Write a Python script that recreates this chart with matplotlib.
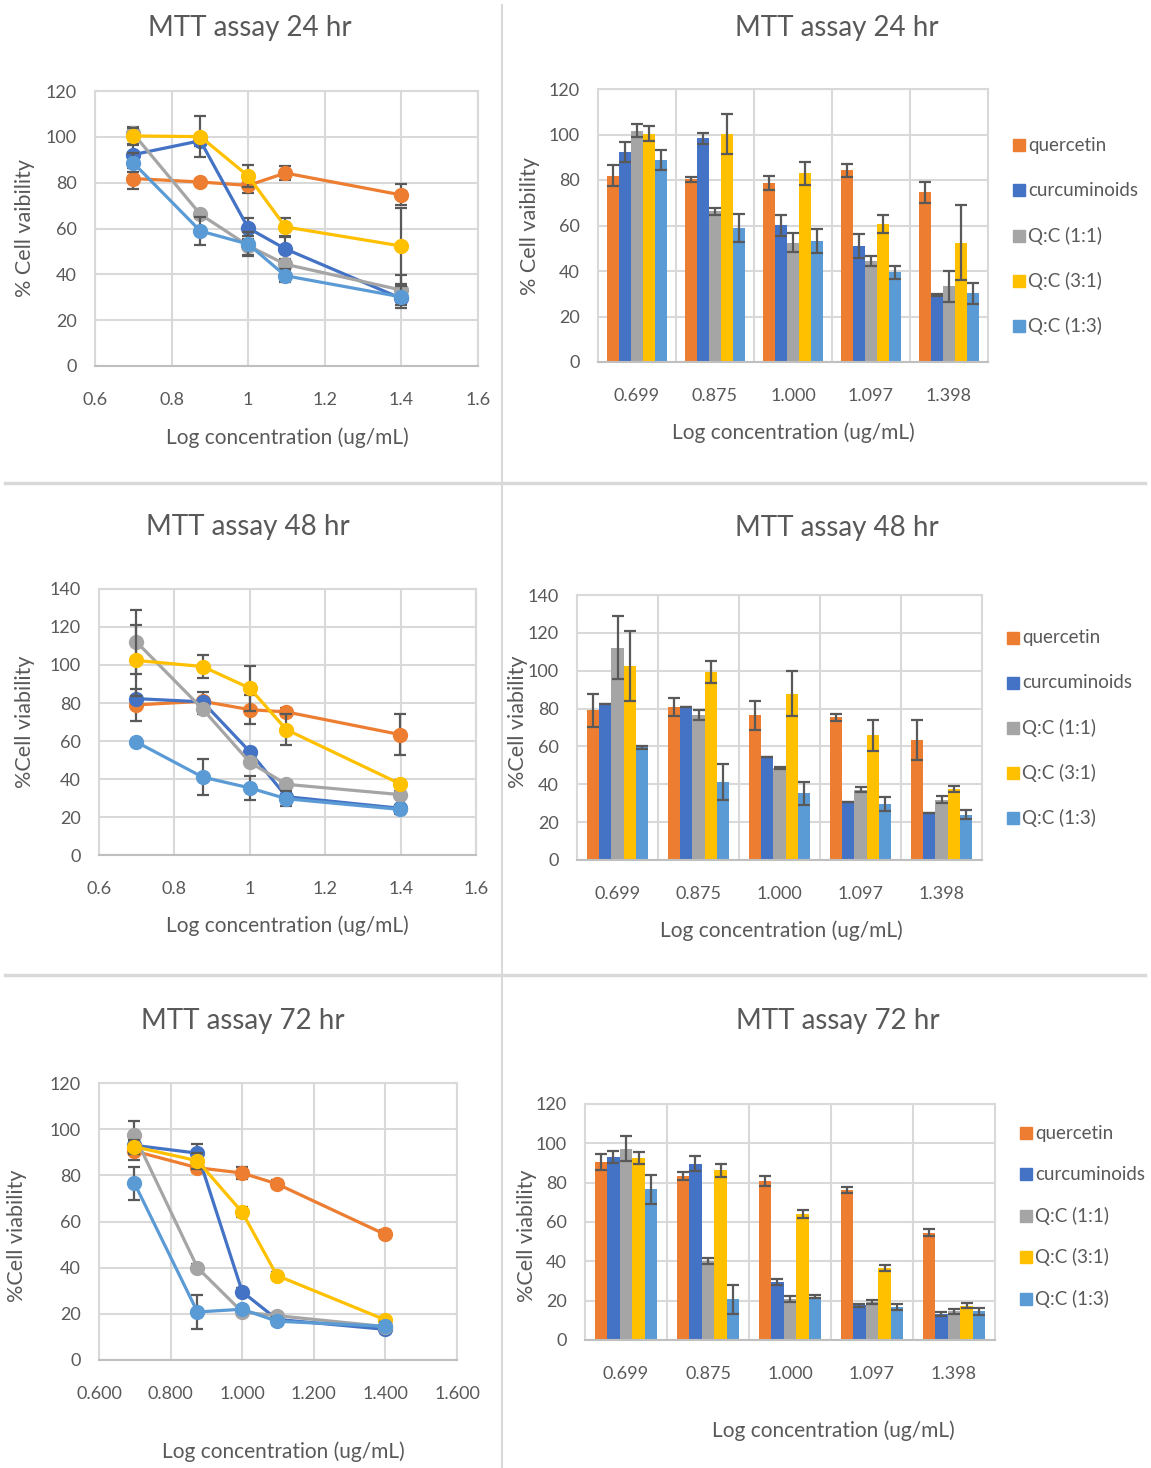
import numpy as np
import matplotlib
matplotlib.use('Agg')
import matplotlib.pyplot as plt
from matplotlib.lines import Line2D

plt.rcParams['font.family'] = ['Lato', 'DejaVu Sans']

W, H = 1151, 1468

series = ['quercetin', 'curcuminoids', 'Q:C (1:1)', 'Q:C (3:1)', 'Q:C (1:3)']
colors = ['#ED7D31', '#4472C4', '#A5A5A5', '#FFC000', '#5B9BD5']
log_conc = [0.699, 0.875, 1.000, 1.097, 1.398]
conc_labels = ['0.699', '0.875', '1.000', '1.097', '1.398']

# 24 hr
v24 = [[81.8, 80.3, 78.8, 84.2, 74.7],
       [92.2, 98.3, 60.2, 51.1, 29.6],
       [101.6, 66.2, 52.5, 44.4, 33.2],
       [100.4, 100.1, 82.9, 60.7, 52.4],
       [88.8, 58.9, 53.2, 39.4, 30.2]]
e24 = [[4.6, 1.0, 3.1, 3.0, 4.6],
       [4.4, 2.5, 4.6, 5.3, 0.5],
       [2.8, 1.5, 4.2, 2.3, 6.7],
       [3.4, 8.8, 4.9, 4.0, 16.4],
       [4.2, 6.2, 5.3, 2.9, 4.7]]

# 48 hr
v48 = [[79.0, 80.9, 76.5, 75.3, 63.4],
       [82.3, 80.6, 54.4, 30.7, 24.6],
       [112.2, 76.8, 48.8, 37.2, 31.8],
       [102.4, 99.2, 87.8, 66.0, 37.5],
       [59.5, 41.0, 35.3, 29.6, 24.0]]
e48 = [[8.6, 4.9, 7.6, 1.9, 10.6],
       [0.0, 0.0, 0.0, 0.0, 0.0],
       [16.8, 2.6, 0.5, 1.2, 1.9],
       [18.5, 5.9, 11.8, 8.2, 1.8],
       [0.8, 9.5, 6.1, 3.9, 2.5]]

# 72 hr
v72 = [[90.5, 83.3, 81.0, 76.3, 54.5],
       [93.0, 89.6, 29.6, 17.6, 13.3],
       [97.3, 40.0, 20.8, 19.2, 14.5],
       [92.4, 86.3, 64.0, 36.6, 17.5],
       [76.6, 20.8, 22.0, 16.8, 14.6]]
e72 = [[4.0, 1.9, 2.5, 1.7, 1.7],
       [3.1, 3.8, 1.4, 0.9, 1.0],
       [6.4, 1.6, 1.4, 1.1, 1.4],
       [3.1, 3.4, 2.1, 1.7, 1.1],
       [7.2, 7.4, 0.7, 1.7, 1.7]]

TXT = '#595959'
GRID = '#D9D9D9'
ERR = '#595959'
XL = 15   # axis label size
YL = 15.5


def add_ax(fig, left, top, right, bottom):
    return fig.add_axes([left / W, 1 - bottom / H, (right - left) / W, (bottom - top) / H])


def ftext(fig, x, y, s, **kw):
    fig.text(x / W, 1 - y / H, s, ha=kw.pop('ha', 'center'), va=kw.pop('va', 'center'),
             color=TXT, **kw)


def style_ax(ax):
    ax.set_axisbelow(True)
    ax.grid(True, color=GRID, linewidth=1.5)
    for s in ax.spines.values():
        s.set_color(GRID)
        s.set_linewidth(1.5)
    ax.spines['bottom'].set_color('#BFBFBF')
    ax.tick_params(length=0, labelsize=13, colors=TXT)
    ax.tick_params(axis='y', pad=13)
    ax.tick_params(axis='x', pad=19)


def line_panel(fig, box, vals, errs, ymax, xfmt):
    ax = add_ax(fig, *box)
    style_ax(ax)
    for j in range(len(series)):
        ax.errorbar(log_conc, vals[j], yerr=errs[j], color=colors[j], lw=2.3,
                    marker='o', ms=10, ecolor=ERR, elinewidth=1.6, capsize=4,
                    capthick=1.6, zorder=3 + j)
    ticks = np.arange(0.6, 1.61, 0.2)
    ax.set_xlim(0.6, 1.6)
    ax.set_ylim(0, ymax)
    ax.set_xticks(ticks)
    ax.set_xticklabels([xfmt(t) for t in ticks])
    ax.set_yticks(np.arange(0, ymax + 1, 20))
    return ax


def bar_panel(fig, box, vals, errs, ymax, legend_ys):
    ax = add_ax(fig, *box)
    style_ax(ax)
    ax.grid(False, axis='x')
    x = np.arange(len(log_conc))
    w = 0.153
    for j in range(len(series)):
        ax.bar(x + (j - 2) * w, vals[j], w, color=colors[j], zorder=2,
               yerr=errs[j], error_kw=dict(ecolor=ERR, elinewidth=1.6, capsize=4,
                                           capthick=1.6, zorder=3))
    for b in np.arange(0.5, len(log_conc) - 1, 1):
        ax.axvline(b, color=GRID, lw=1.5, zorder=0)
    ax.set_xlim(-0.5, len(log_conc) - 0.5)
    ax.set_ylim(0, ymax)
    ax.set_xticks(x)
    ax.set_xticklabels(conc_labels)
    ax.set_yticks(np.arange(0, ymax + 1, 20))
    # legend outside the plot area, square swatches like the original
    for j, ly in enumerate(legend_ys):
        fig.patches.append(plt.Rectangle(((box[2] + 25) / W, 1 - (ly + 6) / H), 12 / W, 12 / H,
                                         color=colors[j], transform=fig.transFigure, figure=fig))
        ftext(fig, box[2] + 40, ly, series[j], ha='left', fontsize=13.5)
    return ax


fig = plt.figure(figsize=(W / 100, H / 100), dpi=100)

# separators
fig.add_artist(Line2D([502 / W, 502 / W], [0, 1 - 5 / H], color=GRID, lw=1.5))
fig.add_artist(Line2D([5 / W, 1145 / W], [1 - 483 / H, 1 - 483 / H], color=GRID, lw=2.5))
fig.add_artist(Line2D([5 / W, 1145 / W], [1 - 975 / H, 1 - 975 / H], color=GRID, lw=2.5))

one = lambda t: ('%g' % round(t, 1))
three = lambda t: '%.3f' % t

# 24 hr
line_panel(fig, (95, 91, 478, 366), v24, e24, 120, one)
ftext(fig, 250, 28, 'MTT assay 24 hr', fontsize=20)
ftext(fig, 25, 228, '% Cell vaibility', rotation=90, fontsize=YL)
ftext(fig, 287, 438, 'Log concentration (ug/mL)', fontsize=XL)

bar_panel(fig, (598, 89, 988, 362), v24, e24, 120, [145, 190, 236, 281, 326])
ftext(fig, 837, 28, 'MTT assay 24 hr', fontsize=20)
ftext(fig, 530, 226, '% Cell vaibility', rotation=90, fontsize=YL)
ftext(fig, 793, 433, 'Log concentration (ug/mL)', fontsize=XL)

# 48 hr
line_panel(fig, (99, 589, 476, 855), v48, e48, 140, one)
ftext(fig, 248, 527, 'MTT assay 48 hr', fontsize=20)
ftext(fig, 25, 722, '%Cell viability', rotation=90, fontsize=YL)
ftext(fig, 287, 926, 'Log concentration (ug/mL)', fontsize=XL)

bar_panel(fig, (577, 595, 982, 860), v48, e48, 140, [638, 683, 728, 773, 818])
ftext(fig, 837, 528, 'MTT assay 48 hr', fontsize=20)
ftext(fig, 518, 722, '%Cell viability', rotation=90, fontsize=YL)
ftext(fig, 781, 931, 'Log concentration (ug/mL)', fontsize=XL)

# 72 hr
line_panel(fig, (99, 1083, 457, 1360), v72, e72, 120, three)
ftext(fig, 243, 1021, 'MTT assay 72 hr', fontsize=20)
ftext(fig, 17, 1236, '%Cell viability', rotation=90, fontsize=YL)
ftext(fig, 283, 1452, 'Log concentration (ug/mL)', fontsize=XL)

bar_panel(fig, (585, 1104, 995, 1340), v72, e72, 120, [1133, 1174, 1216, 1257, 1299])
ftext(fig, 838, 1021, 'MTT assay 72 hr', fontsize=20)
ftext(fig, 527, 1236, '%Cell viability', rotation=90, fontsize=YL)
ftext(fig, 833, 1431, 'Log concentration (ug/mL)', fontsize=XL)

fig.savefig('out.png', dpi=100, facecolor='white')
